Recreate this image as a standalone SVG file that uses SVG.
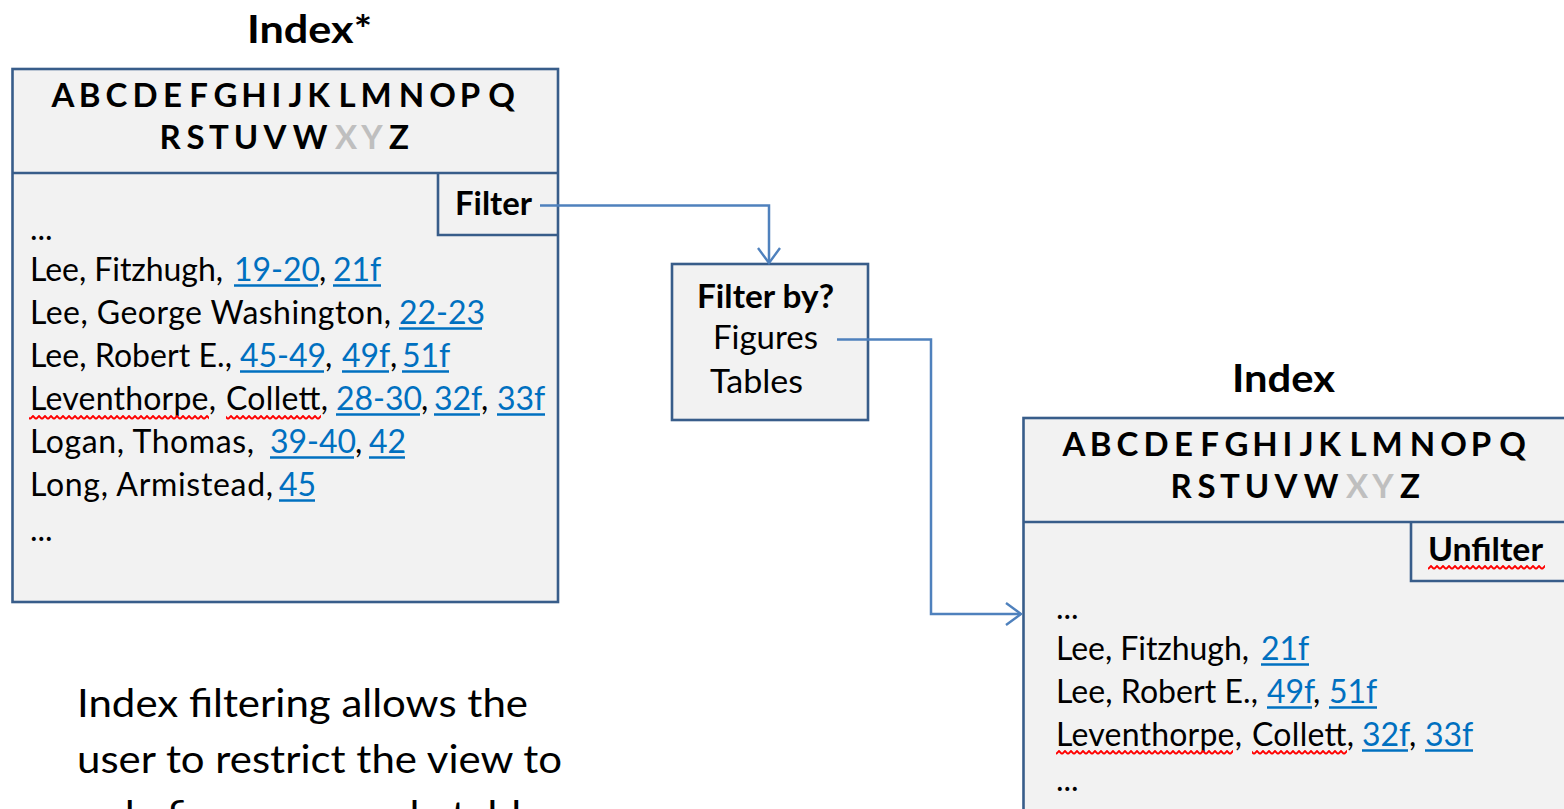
<svg xmlns="http://www.w3.org/2000/svg" width="1564" height="809" viewBox="0 0 1564 809">
  <style>
    .t { font-family: Lato, "Liberation Sans", sans-serif; fill: #000; }
    .b { font-weight: bold; }
    .entry { font-size: 32px; }
    .abc { font-size: 33px; font-weight: bold; text-anchor: middle; }
    .dim { fill: #BFBFBF; }
    .link { fill: #0070C0; }
    .ul { stroke: #0070C0; stroke-width: 2.3; }
    .frame { fill: #F2F2F2; stroke: #385D8A; stroke-width: 2.6; }
    .rule { stroke: #385D8A; stroke-width: 2.6; fill: none; }
    .conn { fill: none; stroke: #4F81BD; stroke-width: 2.5; }
    .squig { fill: url(#squiggle); }
  </style>
  <defs>
    <marker id="openArrow" markerUnits="userSpaceOnUse" viewBox="-18 -13 20 26" refX="0" refY="0" markerWidth="20" markerHeight="26" orient="auto">
      <path d="M-15,-11 L0,0 L-15,11" fill="none" stroke="#4F81BD" stroke-width="2.4"/>
    </marker>
    <pattern id="squiggle" patternUnits="userSpaceOnUse" x="0" y="0" width="6" height="5">
      <path d="M0,4 L3,1 L6,4" fill="none" stroke="#FF0000" stroke-width="1.9"/>
    </pattern>
  </defs>

  <!-- Full index, before filtering -->
  <g id="index-full">
    <text class="t b" x="247" y="43" font-size="39" textLength="125" lengthAdjust="spacingAndGlyphs">Index*</text>
    <rect class="frame" x="12.5" y="69" width="545.5" height="533"/>
    <line class="rule" x1="12.5" y1="173" x2="558" y2="173"/>
    <text class="t abc" y="107" x="63 89.5 116.5 145 172.5 198.5 225.5 254 276.5 295.5 318.5 347 376 411.5 442.5 470 501.5">ABCDEFGHIJKLMNOPQ</text>
    <text class="t abc" y="149" x="170 195.5 219 246 275 310 346 372 399">RSTUVW<tspan class="dim">XY</tspan>Z</text>

    <text class="t entry" x="30" y="240">...</text>
    <text class="t entry" y="281"><tspan x="30" textLength="193">Lee, Fitzhugh,</tspan><tspan class="link" x="234">19-20</tspan><tspan x="319">,</tspan><tspan class="link" x="333">21f</tspan></text>
    <text class="t entry" y="324"><tspan x="30" textLength="361">Lee, George Washington,</tspan><tspan class="link" x="399">22-23</tspan></text>
    <text class="t entry" y="367"><tspan x="30" textLength="202">Lee, Robert E.,</tspan><tspan class="link" x="240">45-49</tspan><tspan x="325">,</tspan><tspan class="link" x="342">49f</tspan><tspan x="390">,</tspan><tspan class="link" x="402">51f</tspan></text>
    <text class="t entry" y="410"><tspan x="30" textLength="186">Leventhorpe,</tspan><tspan x="226" textLength="102">Collett,</tspan><tspan class="link" x="336">28-30</tspan><tspan x="421">,</tspan><tspan class="link" x="434">32f</tspan><tspan x="481">,</tspan><tspan class="link" x="497">33f</tspan></text>
    <text class="t entry" y="453"><tspan x="30" textLength="224">Logan, Thomas,</tspan><tspan class="link" x="270">39-40</tspan><tspan x="355">,</tspan><tspan class="link" x="369">42</tspan></text>
    <text class="t entry" y="496"><tspan x="30" textLength="243">Long, Armistead,</tspan><tspan class="link" x="279">45</tspan></text>
    <text class="t entry" x="30" y="541">...</text>

    <g class="ul">
      <line x1="234" y1="285.5" x2="318" y2="285.5"/>
      <line x1="333" y1="285.5" x2="381" y2="285.5"/>
      <line x1="399" y1="328.5" x2="482" y2="328.5"/>
      <line x1="240" y1="371.5" x2="324" y2="371.5"/>
      <line x1="342" y1="371.5" x2="389" y2="371.5"/>
      <line x1="402" y1="371.5" x2="449" y2="371.5"/>
      <line x1="336" y1="414.5" x2="420" y2="414.5"/>
      <line x1="434" y1="414.5" x2="480" y2="414.5"/>
      <line x1="497" y1="414.5" x2="545" y2="414.5"/>
      <line x1="270" y1="457.5" x2="354" y2="457.5"/>
      <line x1="369" y1="457.5" x2="405" y2="457.5"/>
      <line x1="279" y1="500.5" x2="315" y2="500.5"/>
    </g>
    <rect class="squig" x="29" y="415" width="180" height="5"/>
    <rect class="squig" x="226" y="415" width="95" height="5"/>
  </g>

  <!-- Filter button on the full index -->
  <g id="filter-button">
    <polyline class="rule" points="438,173 438,235 558,235"/>
    <text class="t b" x="455" y="215" font-size="33" textLength="77" lengthAdjust="spacingAndGlyphs">Filter</text>
  </g>

  <!-- Filter choice dialog -->
  <g id="filter-menu">
    <rect class="frame" x="672" y="264" width="196" height="156"/>
    <text class="t b" x="697" y="308" font-size="33" textLength="137" lengthAdjust="spacingAndGlyphs">Filter by?</text>
    <text class="t" x="713" y="349" font-size="32" textLength="105" lengthAdjust="spacingAndGlyphs">Figures</text>
    <text class="t" x="710" y="393" font-size="32" textLength="93" lengthAdjust="spacingAndGlyphs">Tables</text>
  </g>

  <!-- Filtered index -->
  <g id="index-filtered">
    <text class="t b" x="1232" y="392" font-size="38" textLength="103" lengthAdjust="spacingAndGlyphs">Index</text>
    <rect class="frame" x="1023.5" y="418" width="545" height="533"/>
    <line class="rule" x1="1023.5" y1="522" x2="1569" y2="522"/>
    <text class="t abc" y="456" x="1074 1100.5 1127.5 1156 1183.5 1209.5 1236.5 1265 1287.5 1306.5 1329.5 1358 1387 1422.5 1453.5 1481 1512.5">ABCDEFGHIJKLMNOPQ</text>
    <text class="t abc" y="498" x="1181 1206.5 1230 1257 1286 1321 1357 1383 1410">RSTUVW<tspan class="dim">XY</tspan>Z</text>

    <text class="t entry" x="1056" y="619">...</text>
    <text class="t entry" y="660"><tspan x="1056" textLength="193">Lee, Fitzhugh,</tspan><tspan class="link" x="1261">21f</tspan></text>
    <text class="t entry" y="703"><tspan x="1056" textLength="202">Lee, Robert E.,</tspan><tspan class="link" x="1267">49f</tspan><tspan x="1313">,</tspan><tspan class="link" x="1329">51f</tspan></text>
    <text class="t entry" y="746"><tspan x="1056" textLength="186">Leventhorpe,</tspan><tspan x="1252" textLength="102">Collett,</tspan><tspan class="link" x="1362">32f</tspan><tspan x="1409">,</tspan><tspan class="link" x="1425">33f</tspan></text>
    <text class="t entry" x="1056" y="791">...</text>

    <g class="ul">
      <line x1="1261" y1="664.5" x2="1309" y2="664.5"/>
      <line x1="1267" y1="707.5" x2="1312" y2="707.5"/>
      <line x1="1329" y1="707.5" x2="1377" y2="707.5"/>
      <line x1="1362" y1="750.5" x2="1408" y2="750.5"/>
      <line x1="1425" y1="750.5" x2="1473" y2="750.5"/>
    </g>
    <rect class="squig" x="1056" y="750" width="177" height="5"/>
    <rect class="squig" x="1252" y="750" width="95" height="5"/>
  </g>

  <!-- Unfilter button on the filtered index -->
  <g id="unfilter-button">
    <polyline class="rule" points="1411,522 1411,581 1569,581"/>
    <text class="t b" x="1428" y="561" font-size="33" textLength="115" lengthAdjust="spacingAndGlyphs">Unfilter</text>
    <rect class="squig" x="1428" y="565" width="117" height="5"/>
  </g>

  <!-- Caption (third line runs past the bottom edge) -->
  <g id="caption">
    <text class="t" x="77" y="717" font-size="38" textLength="451" lengthAdjust="spacingAndGlyphs">Index filtering allows  the</text>
    <text class="t" x="77" y="773" font-size="38" textLength="485" lengthAdjust="spacingAndGlyphs">user to restrict the view to</text>
    <text class="t" x="77" y="829" font-size="38" textLength="485" lengthAdjust="spacingAndGlyphs">only figures,  or only tables</text>
  </g>

  <!-- Connectors -->
  <g id="connectors">
    <path class="conn" d="M540,205.5 H769 V263" marker-end="url(#openArrow)"/>
    <path class="conn" d="M837,339.5 H931 V614 H1021" marker-end="url(#openArrow)"/>
  </g>
</svg>
